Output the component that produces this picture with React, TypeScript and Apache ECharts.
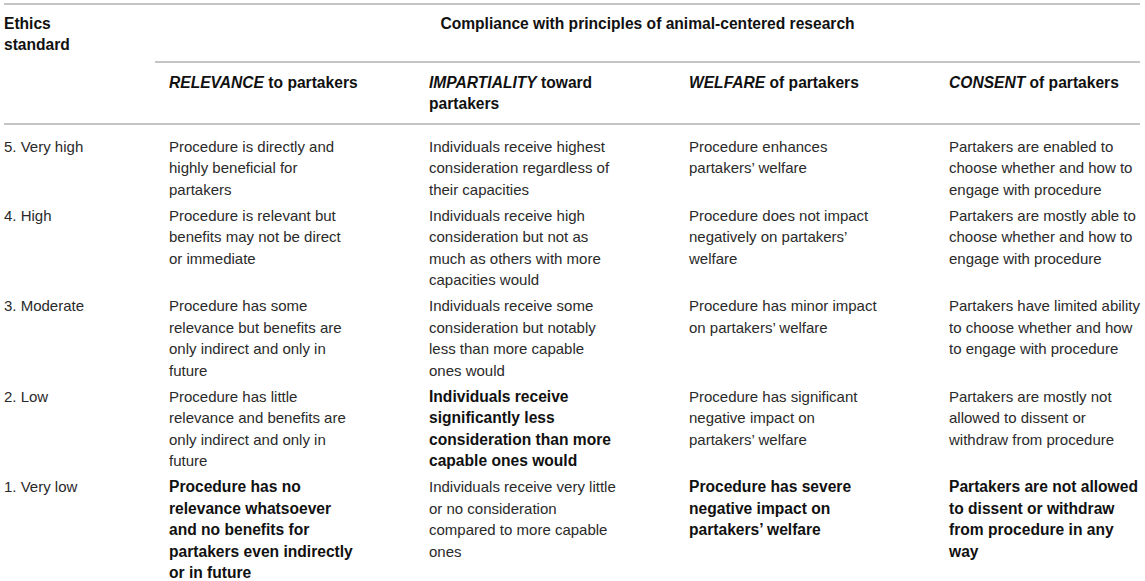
import React, { useEffect, useRef } from "react";
import * as echarts from "echarts";

const titleLeft = "Ethics\nstandard";
const titleSpan = "Compliance with principles of animal-centered research";
const principleKeys = ["RELEVANCE", "IMPARTIALITY", "WELFARE", "CONSENT"];
const principleRest = [" to partakers", " toward\npartakers", " of partakers", " of partakers"];
const levels = ["5. Very high", "4. High", "3. Moderate", "2. Low", "1. Very low"];

const relevance = [
  "Procedure is directly and\nhighly beneficial for\npartakers",
  "Procedure is relevant but\nbenefits may not be direct\nor immediate",
  "Procedure has some\nrelevance but benefits are\nonly indirect and only in\nfuture",
  "Procedure has little\nrelevance and benefits are\nonly indirect and only in\nfuture",
  "Procedure has no\nrelevance whatsoever\nand no benefits for\npartakers even indirectly\nor in future",
];
const impartiality = [
  "Individuals receive highest\nconsideration regardless of\ntheir capacities",
  "Individuals receive high\nconsideration but not as\nmuch as others with more\ncapacities would",
  "Individuals receive some\nconsideration but notably\nless than more capable\nones would",
  "Individuals receive\nsignificantly less\nconsideration than more\ncapable ones would",
  "Individuals receive very little\nor no consideration\ncompared to more capable\nones",
];
const welfare = [
  "Procedure enhances\npartakers\u2019 welfare",
  "Procedure does not impact\nnegatively on partakers\u2019\nwelfare",
  "Procedure has minor impact\non partakers\u2019 welfare",
  "Procedure has significant\nnegative impact on\npartakers\u2019 welfare",
  "Procedure has severe\nnegative impact on\npartakers\u2019 welfare",
];
const consent = [
  "Partakers are enabled to\nchoose whether and how to\nengage with procedure",
  "Partakers are mostly able to\nchoose whether and how to\nengage with procedure",
  "Partakers have limited ability\nto choose whether and how\nto engage with procedure",
  "Partakers are mostly not\nallowed to dissent or\nwithdraw from procedure",
  "Partakers are not allowed\nto dissent or withdraw\nfrom procedure in any\nway",
];
// index of the row whose text is bold, per column
const boldRow = [4, 3, 4, 4];

const FONT = "'Liberation Sans', Arial, Helvetica, sans-serif";
const FS = 15;
const FSB = 15.6;
const LH = 21.5;
const GAP = 4.5;
const TXT = "#2a2a2a";
const BOLD = "#111111";
const RULE = "#b0b0b0";

export default function App() {
  const ref = useRef<HTMLDivElement>(null);
  useEffect(() => {
    if (!ref.current) return;
    const chart = echarts.init(ref.current, null, { renderer: "svg" });
    const colX = [4, 169, 429, 689, 949];
    const columns = [relevance, impartiality, welfare, consent];
    const els: any[] = [];
    const text = (x: number, y: number, t: string, bold: boolean, extra: any = {}) => ({
      type: "text",
      x,
      y,
      silent: true,
      style: {
        text: t,
        fontFamily: FONT,
        fontSize: bold ? FSB : FS,
        fontWeight: bold ? "bold" : "normal",
        fill: bold ? BOLD : TXT,
        lineHeight: LH,
        align: "left",
        verticalAlign: "top",
        ...extra,
      },
    });
    const rule = (x1: number, x2: number, y: number) => ({
      type: "line",
      silent: true,
      shape: { x1, y1: y, x2, y2: y },
      style: { stroke: RULE, lineWidth: 1.6 },
    });
    els.push(rule(4, 1140, 4));
    els.push(rule(155, 1140, 62));
    els.push(rule(4, 1140, 124));
    els.push(text(colX[0], 12.25, titleLeft, true));
    els.push(text(647.5, 12.25, titleSpan, true, { align: "center" }));
    principleKeys.forEach((k, i) => {
      els.push(
        text(colX[i + 1], 71.25, "{i|" + k + "}" + principleRest[i], true, {
          rich: {
            i: {
              fontStyle: "italic",
              fontWeight: "bold",
              fontFamily: FONT,
              fontSize: FSB,
              fill: BOLD,
              lineHeight: LH,
            },
          },
        })
      );
    });
    let y = 135.25;
    levels.forEach((lv, r) => {
      els.push(text(colX[0], y, lv, false));
      let maxLines = 1;
      columns.forEach((col, c) => {
        const t = col[r];
        maxLines = Math.max(maxLines, t.split("\n").length);
        els.push(text(colX[c + 1], y, t, boldRow[c] === r));
      });
      y += maxLines * LH + GAP;
    });
    chart.setOption({ animation: false, graphic: { elements: els } });
    return () => chart.dispose();
  }, []);
  return (
    <div
      ref={ref}
      style={{ position: "fixed", left: 0, top: 0, width: 1145, height: 581, background: "#fff" }}
    />
  );
}
